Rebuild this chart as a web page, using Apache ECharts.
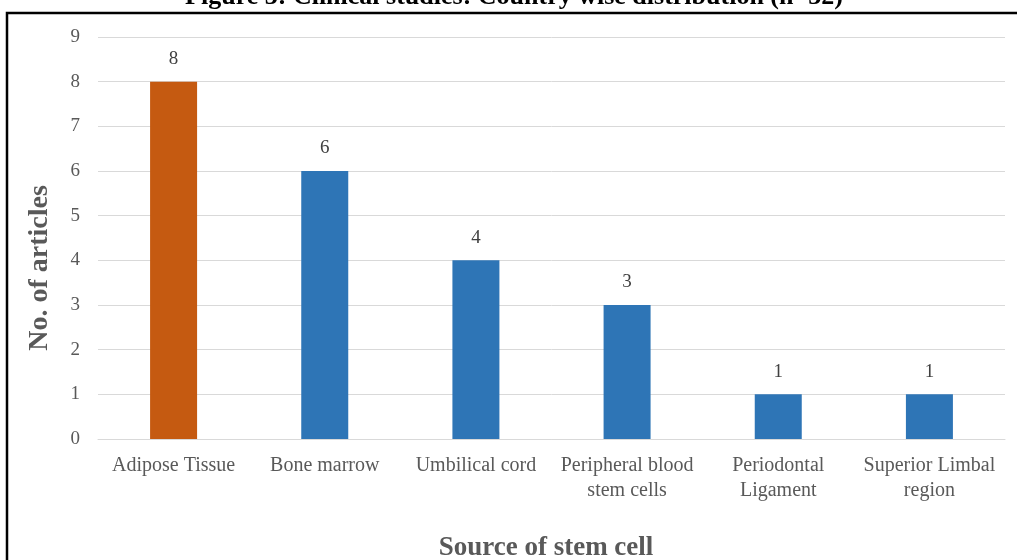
<!DOCTYPE html>
<html>
<head>
<meta charset="utf-8">
<script src="https://cdn.jsdelivr.net/npm/echarts@6/dist/echarts.min.js"></script>
<style>
  html, body { margin: 0; padding: 0; background: #ffffff; }
  #chart { width: 1017px; height: 560px; }
</style>
</head>
<body>
<div id="chart"></div>
<script>
// Stem cell sources and number of articles per source
const categories = [
  'Adipose Tissue',
  'Bone marrow',
  'Umbilical cord',
  'Peripheral blood\nstem cells',
  'Periodontal\nLigament',
  'Superior Limbal\nregion'
];
const articleCounts = [8, 6, 4, 3, 1, 1];
const barColors = ['#C55A11', '#2E75B6', '#2E75B6', '#2E75B6', '#2E75B6', '#2E75B6'];
const yTicks = [0, 1, 2, 3, 4, 5, 6, 7, 8, 9];

const serif = '"Liberation Serif", "Times New Roman", serif';

const chart = echarts.init(document.getElementById('chart'));
chart.setOption({
  animation: false,
  backgroundColor: '#ffffff',
  graphic: [
    {
      type: 'rect',
      shape: { x: 7, y: 13, width: 1030, height: 600 },
      style: { fill: 'none', stroke: '#000000', lineWidth: 2.5 },
      z: 10
    },
    {
      type: 'text',
      x: 514,
      y: 10,
      style: {
        text: 'Figure 3: Clinical studies: Country wise distribution (n=32)',
        font: 'bold 26px ' + serif,
        fill: '#000000',
        align: 'center',
        verticalAlign: 'bottom'
      }
    },
    {
      // y-axis title
      type: 'text',
      x: 40,
      y: 268,
      rotation: Math.PI / 2,
      style: {
        text: 'No. of articles',
        font: 'bold 28px ' + serif,
        fill: '#595959',
        align: 'center',
        verticalAlign: 'middle'
      }
    },
    {
      // x-axis title
      type: 'text',
      x: 546,
      y: 548,
      style: {
        text: 'Source of stem cell',
        font: 'bold 27px ' + serif,
        fill: '#595959',
        align: 'center',
        verticalAlign: 'middle'
      }
    }
  ],
  grid: { left: 98, right: 12, top: 37, bottom: 121 },
  xAxis: {
    type: 'category',
    data: categories,
    axisLine: { show: true, lineStyle: { color: '#d9d9d9', width: 1 } },
    axisTick: { show: false },
    axisLabel: {
      interval: 0,
      margin: 14,
      color: '#595959',
      fontFamily: serif,
      fontSize: 20,
      lineHeight: 25
    }
  },
  yAxis: {
    type: 'value',
    min: yTicks[0],
    max: yTicks[yTicks.length - 1],
    interval: 1,
    axisLine: { show: false },
    axisTick: { show: false },
    splitLine: { lineStyle: { color: '#d9d9d9', width: 1 } },
    axisLabel: { color: '#595959', fontFamily: serif, fontSize: 19, margin: 18 }
  },
  series: [{
    type: 'bar',
    data: articleCounts.map((v, i) => ({ value: v, itemStyle: { color: barColors[i] } })),
    barWidth: 47,
    label: {
      show: true,
      position: 'top',
      distance: 13,
      color: '#404040',
      fontFamily: serif,
      fontSize: 19
    }
  }]
});
</script>
</body>
</html>
